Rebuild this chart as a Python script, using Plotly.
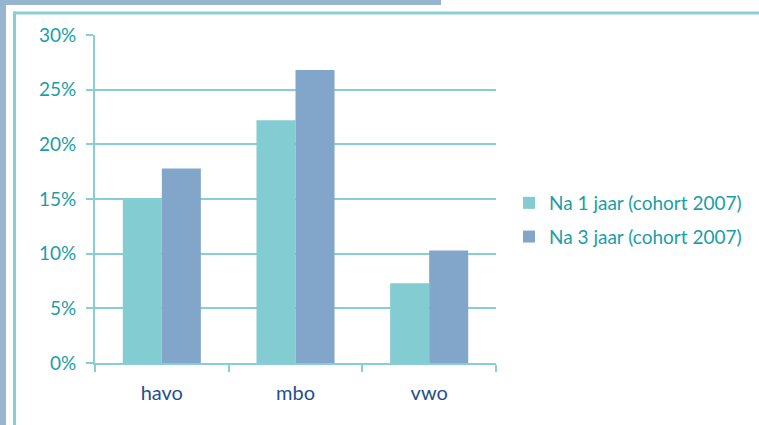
import plotly.graph_objects as go

categories = ["havo", "mbo", "vwo"]
series_names = ["Na 1 jaar (cohort 2007)", "Na 3 jaar (cohort 2007)"]
na1 = [14.9, 22.2, 7.3]
na3 = [17.8, 26.8, 10.3]
y_ticks = [0, 5, 10, 15, 20, 25, 30]

W, H = 759, 425
L, R, T, B = 95, 263, 35, 62
PW, PH = W - L - R, H - T - B

def xp(px):
    return (px - L) / PW

def yp(py):
    return (H - B - py) / PH

TEAL_BAR = "#82CCD2"
BLUE_BAR = "#82A6C9"
LINE = "#88CFD5"
TEXT_TEAL = "#1A9EA6"
TEXT_BLUE = "#1F4F8F"
FRAME_GRAY = "#97B5CF"
FONT = "Lato"

fig = go.Figure()
fig.add_trace(go.Bar(x=categories, y=na1, name=series_names[0],
                     marker=dict(color=TEAL_BAR, line=dict(width=0)),
                     legendgroup="a"))
fig.add_trace(go.Bar(x=categories, y=na3, name=series_names[1],
                     marker=dict(color=BLUE_BAR, line=dict(width=0)),
                     legendgroup="b"))

shapes = [
    dict(type="rect", xref="paper", yref="paper", x0=xp(0), x1=xp(6), y0=yp(0), y1=yp(H),
         fillcolor=FRAME_GRAY, line=dict(width=0), layer="above"),
    dict(type="rect", xref="paper", yref="paper", x0=xp(0), x1=xp(441), y0=yp(0), y1=yp(5),
         fillcolor=FRAME_GRAY, line=dict(width=0), layer="above"),
    dict(type="line", xref="paper", yref="paper", x0=xp(14.5), x1=xp(14.5), y0=yp(11.5), y1=yp(H),
         line=dict(color=LINE, width=3), layer="above"),
    dict(type="line", xref="paper", yref="paper", x0=xp(13), x1=xp(W), y0=yp(13), y1=yp(13),
         line=dict(color=LINE, width=3), layer="above"),
]

fig.update_layout(
    width=W, height=H,
    margin=dict(l=L, r=R, t=T, b=B),
    paper_bgcolor="white", plot_bgcolor="white",
    barmode="group", bargap=0.416, bargroupgap=0,
    font=dict(family=FONT, size=19, color=TEXT_TEAL),
    showlegend=True,
    legend=dict(xref="container", yref="container",
                x=509 / W, y=1 - 184 / H, xanchor="left", yanchor="top",
                font=dict(family=FONT, size=19, color=TEXT_TEAL),
                tracegroupgap=6, bgcolor="rgba(0,0,0,0)"),
    shapes=shapes,
    xaxis=dict(type="category", tickson="boundaries", ticks="outside", ticklen=7,
               tickwidth=2, tickcolor=LINE, showline=True, linecolor=LINE, linewidth=2,
               showgrid=False, tickfont=dict(family=FONT, size=20, color=TEXT_BLUE),
               ticklabelstandoff=11, automargin=False),
    yaxis=dict(range=[0, 30], tickvals=y_ticks, ticktext=[f"{v}%" for v in y_ticks],
               ticks="outside", ticklen=7, tickwidth=2, tickcolor=LINE,
               showline=True, linecolor=LINE, linewidth=2,
               showgrid=True, gridcolor=LINE, gridwidth=2, zeroline=False,
               tickfont=dict(family=FONT, size=19, color=TEXT_TEAL),
               ticklabelstandoff=6, automargin=False),
)

fig.write_html("out.html", config={"displayModeBar": False},
               post_script="document.body.style.margin='0';document.body.style.padding='0';")
